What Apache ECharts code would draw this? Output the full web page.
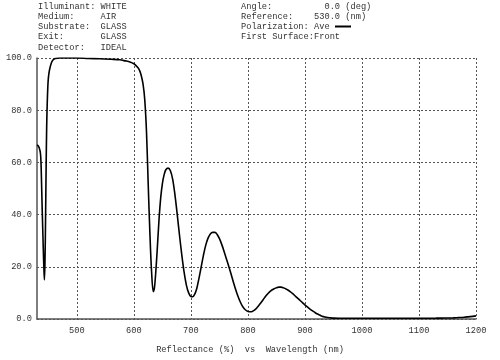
<!DOCTYPE html>
<html>
<head>
<meta charset="utf-8">
<script src="https://cdn.jsdelivr.net/npm/echarts@6/dist/echarts.min.js"></script>
<style>html,body{margin:0;padding:0;background:#fff;}#c{width:500px;height:360px;}</style>
</head>
<body>
<div id="c"></div>
<script>
// Wavelength (nm)
var wavelength = [430,432,434,436,437,438,439,440,441,442,443,444,445,446,447,448,449,450,452,455,458,462,470,480,500,520,540,560,575,585,593,600,604,608,612,616,619,622,625,628,631,634,636,638,641,644,647,650,653,656,660,664,668,672,676,680,684,688,692,696,700,703,706,710,714,718,722,726,730,734,738,742,746,750,754,758,762,766,770,774,778,782,786,790,794,798,802,806,810,814,818,822,826,830,834,838,842,846,850,854,858,862,866,870,874,878,882,886,890,894,898,902,906,910,914,918,922,926,930,935,940,945,950,960,980,1000,1050,1100,1130,1145,1160,1170,1180,1190,1200];
// Reflectance (%)
var reflectance = [66.7,66.4,65.5,63.5,60,52,43,35,27,20,15,22,38,58,74,83,89,92.5,95.5,98,99.2,99.8,100,100,100,99.8,99.7,99.5,99.3,98.9,98.5,97.8,97,96,94,90,84,72,52,33,18,10.5,12,17,27,38,46.5,52,55.3,57.2,57.8,56.8,53.5,47.5,40,32,24.5,18,13,10,8.6,8.5,9.2,11.5,15.5,20,24.5,28.3,31,32.6,33.2,33.2,32.4,30.8,28.6,26,23.2,20.4,17.5,14.5,11.6,9,6.8,5,3.8,3.1,2.8,2.8,3.2,3.9,4.9,6,7.2,8.4,9.5,10.4,11.1,11.6,12,12.2,12.2,12,11.6,11.1,10.5,9.8,9,8.2,7.4,6.6,5.8,5,4.3,3.6,3,2.4,1.9,1.5,1.1,0.8,0.6,0.45,0.35,0.3,0.3,0.3,0.3,0.3,0.32,0.36,0.45,0.55,0.7,0.9,1.2];
var xTicks = [500,600,700,800,900,1000,1100,1200];
var yTicks = [0,20,40,60,80,100];
var headerLeft = [
  'Illuminant: WHITE',
  'Medium:     AIR',
  'Substrate:  GLASS',
  'Exit:       GLASS',
  'Detector:   IDEAL'
];
var headerRight = [
  'Angle:          0.0 (deg)',
  'Reference:    530.0 (nm)',
  'Polarization: Ave',
  'First Surface:Front'
];
var axisTitle = 'Reflectance (%)  vs  Wavelength (nm)';

var FONT = '"Liberation Mono", "Courier New", monospace';
var FS = 8.7;
var TC = '#333';

var data = wavelength.map(function (w, i) { return [w, reflectance[i]]; });

var graphics = [];
headerLeft.forEach(function (t, i) {
  graphics.push({type: 'text', left: 38, top: 2 + i * 10.2,
    style: {text: t, font: FS + 'px ' + FONT, fill: TC}});
});
headerRight.forEach(function (t, i) {
  graphics.push({type: 'text', left: 241, top: 2 + i * 10.2,
    style: {text: t, font: FS + 'px ' + FONT, fill: TC}});
});
graphics.push({type: 'line', shape: {x1: 335, y1: 26.5, x2: 351, y2: 26.5},
  style: {stroke: '#000', lineWidth: 2}});
graphics.push({type: 'text', left: 'center', top: 345,
  style: {text: axisTitle, font: FS + 'px ' + FONT, fill: TC}});

var chart = echarts.init(document.getElementById('c'), null, {renderer: 'canvas'});
chart.setOption({
  backgroundColor: '#fff',
  animation: false,
  grid: {left: 37, right: 24, top: 58, bottom: 41, containLabel: false},
  xAxis: {
    type: 'value', min: 430, max: 1200,
    axisLine: {show: true, onZero: false, lineStyle: {color: '#555', width: 1.5}},
    axisTick: {show: false, customValues: xTicks},
    axisLabel: {customValues: xTicks, color: TC, fontFamily: FONT, fontSize: FS, margin: 7,
      formatter: function (v) { return String(v); }},
    splitLine: {show: true, lineStyle: {color: '#555', type: [2, 2], width: 1}}
  },
  yAxis: {
    type: 'value', min: 0, max: 100, interval: 20,
    axisLine: {show: true, onZero: false, lineStyle: {color: '#555', width: 1.5}},
    axisTick: {show: false},
    axisLabel: {color: TC, fontFamily: FONT, fontSize: FS, margin: 5,
      formatter: function (v) { return v.toFixed(1); }},
    splitLine: {show: true, lineStyle: {color: '#555', type: [2, 2], width: 1}}
  },
  series: [{
    type: 'line', data: data, showSymbol: false, smooth: 0.35,
    lineStyle: {color: '#000', width: 1.6}, z: 5
  }],
  graphic: graphics
});
</script>
</body>
</html>
